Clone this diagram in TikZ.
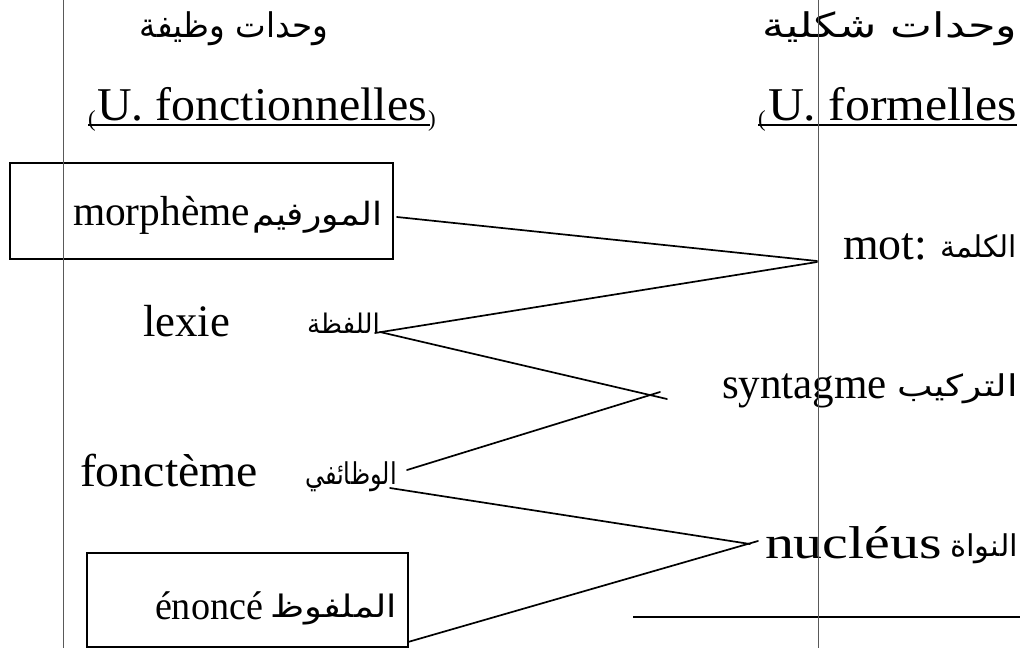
\documentclass[tikz,border=0pt]{standalone}
\usepackage{fontspec}
\usepackage{graphicx}
\setmainfont{Liberation Serif}
\newfontfamily\arabicfont[Script=Arabic]{DejaVu Sans}
\TeXXeTstate=1
% Latin word set at a given size, stretched horizontally to a given width
\newcommand\fitw[3]{\resizebox{#1pt}{\height}{\fontsize{#2}{#2}\selectfont #3}}
% Arabic text set at a given size and fitted to a given width
\newcommand\arw[3]{\resizebox{#1pt}{\height}{\fontsize{#2}{#2}\selectfont\arabicfont #3}}
\begin{document}
\begin{tikzpicture}[x=1pt,y=-1pt,
  txt/.style={inner sep=0pt, outer sep=0pt, anchor=base west},
  conn/.style={line width=1.7pt, line cap=round},
  frame/.style={draw, line width=1.6pt, inner sep=0pt},
  guide/.style={line width=0.8pt, draw=black!65},
  uline/.style={line width=1.6pt}]

\useasboundingbox (0,0) rectangle (1030,648);
\clip (0,0) rectangle (1030,648);

% framed units
\node[frame, minimum width=383pt, minimum height=96pt] (boxMorph) at (201.5,211) {};
\node[frame, minimum width=321pt, minimum height=94pt] (boxEnonce) at (247.5,600) {};

% column headings
\node[inner sep=0pt, anchor=base] (hdrFonc) at (234,37) {\arw{188}{34}{\beginR وحدات وظيفة\endR}};
\node[inner sep=0pt, anchor=base] (hdrForm) at (890,37) {\arw{255}{34}{\beginR وحدات شكلية\endR}};

\node[txt] (ufonc) at (97,120) {\fitw{330}{47}{U. fonctionnelles}};
\node[txt] (parL1) at (88,126) {\fontsize{23}{23}\selectfont (};
\node[txt] (parR1) at (428,126) {\fontsize{23}{23}\selectfont )};
\draw[uline] (88,125) -- (430,125);

\node[txt] (uform) at (768,120) {\fitw{249}{47}{U. formelles}};
\node[txt] (parL2) at (758,126) {\fontsize{23}{23}\selectfont (};
\draw[uline] (758,125) -- (1017,125);

% functional units
\node[txt] (morph) at (73,225) {\fitw{177}{42}{morphème}};
\node[txt] (arMorph) at (252,225) {\arw{130}{32}{\beginR المورفيم\endR}};
\node[txt] (lexie) at (143,336) {\fitw{87}{45}{lexie}};
\node[txt] (arLexie) at (307,333) {\arw{73}{27}{\beginR اللفظة\endR}};
\node[txt] (fonct) at (80,486) {\fitw{178}{46}{fonctème}};
\node[txt] (arFonct) at (305,484) {\arw{92}{30}{\beginR الوظائفي\endR}};
\node[txt] (enonce) at (155,619) {\fitw{108}{40}{énoncé}};
\node[txt] (arEnonce) at (270,617) {\arw{127}{31}{\beginR الملفوظ\endR}};

% formal units
\node[txt] (mot) at (843,259) {\fitw{84}{46}{mot:}};
\node[txt] (arMot) at (940,257) {\arw{77}{30}{\beginR الكلمة\endR}};
\node[txt] (synt) at (722,398) {\fitw{165}{44}{syntagme}};
\node[txt] (arSynt) at (897,396) {\arw{121}{30}{\beginR التركيب\endR}};
\node[txt] (nucl) at (765,558) {\fitw{177}{46}{nucléus}};
\node[txt] (arNucl) at (950,556) {\arw{68}{30}{\beginR النواة\endR}};

% connector end points
\coordinate (sMorph) at (397,217);
\coordinate (sLexA) at (375,333);
\coordinate (sLexB) at (380,332);
\coordinate (sFonA) at (407,470);
\coordinate (sFonB) at (390,488);
\coordinate (sEnon) at (408,642);
\coordinate (jMotA) at (817,261);
\coordinate (jMotB) at (817,262);
\coordinate (jSynA) at (667,399);
\coordinate (jSynB) at (660,392);
\coordinate (jNucA) at (750,544);
\coordinate (jNucB) at (758,541);

\draw[conn] (sMorph) -- (jMotA);
\draw[conn] (sLexA) -- (jMotB);
\draw[conn] (sLexB) -- (jSynA);
\draw[conn] (sFonA) -- (jSynB);
\draw[conn] (sFonB) -- (jNucA);
\draw[conn] (sEnon) -- (jNucB);

% rule under the formal column
\draw[uline] (633,617) -- (1020,617);

% vertical guide lines
\draw[guide] (63,0) -- (63,648);
\draw[guide] (818,0) -- (818,648);
\end{tikzpicture}
\end{document}
